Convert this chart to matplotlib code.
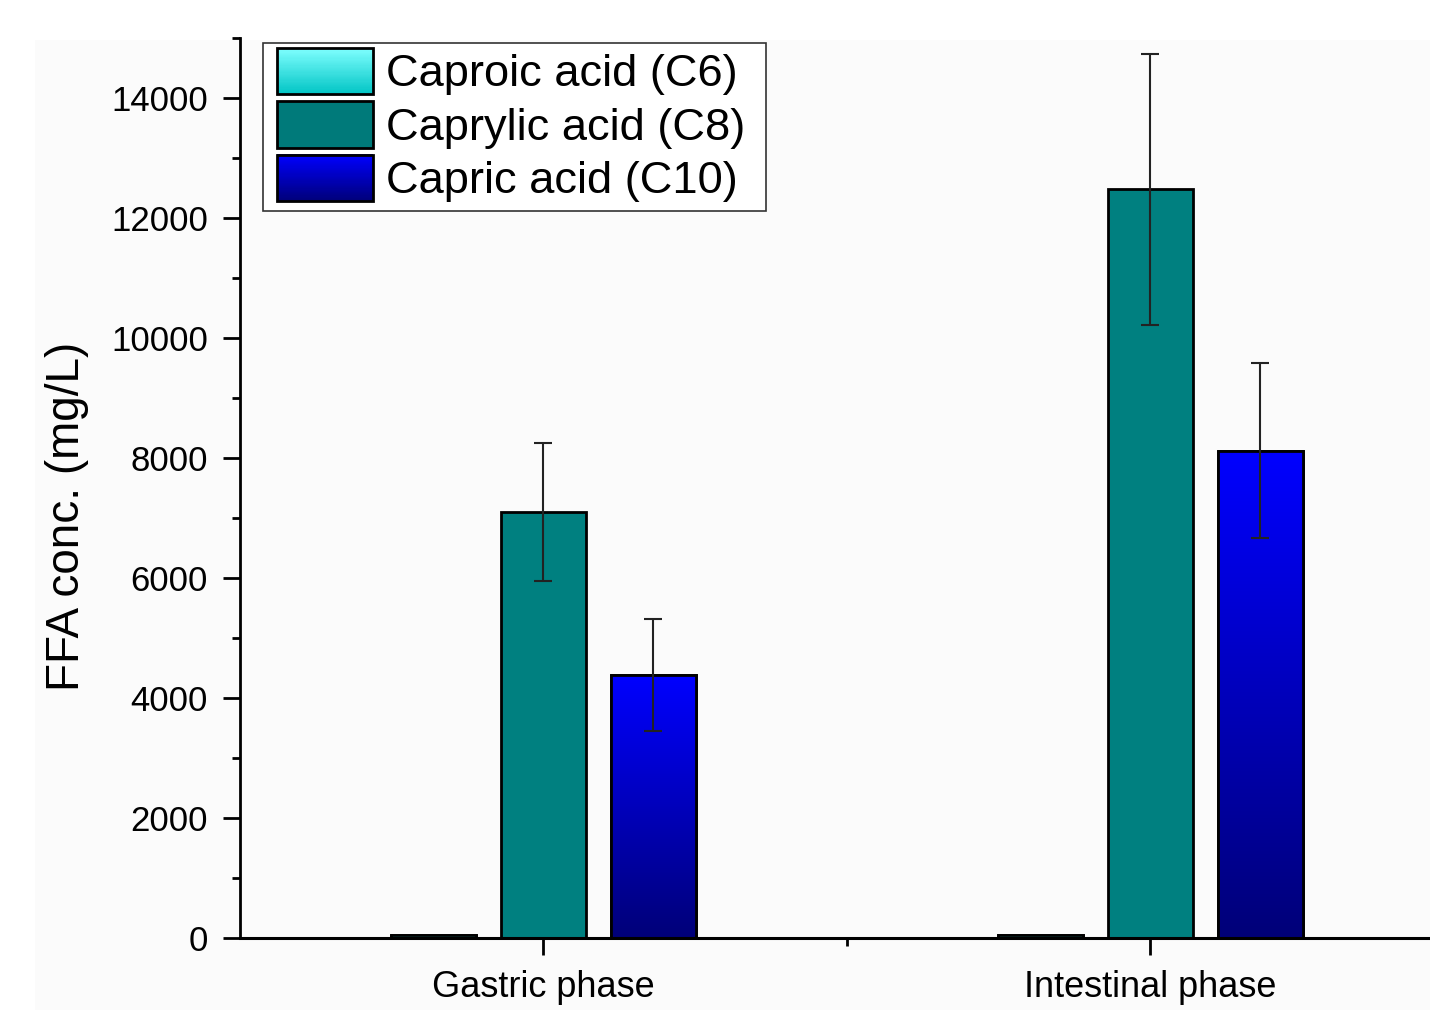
import numpy as np
import matplotlib
matplotlib.use("Agg")
import matplotlib.pyplot as plt
from matplotlib.patches import Rectangle
from matplotlib.colors import LinearSegmentedColormap, to_rgb
from matplotlib.legend_handler import HandlerBase
from matplotlib.ticker import MultipleLocator

plt.rcParams['font.family'] = ['Liberation Sans', 'DejaVu Sans']

categories = ["Gastric phase", "Intestinal phase"]
series = ["Caproic acid (C6)", "Caprylic acid (C8)", "Capric acid (C10)"]
c6_vals = [50, 50]
c8_vals = [7100, 12480]
c10_vals = [4380, 8120]
c6_err = [0, 0]
c8_err = [1150, 2260]
c10_err = [930, 1460]

# gradient (top colour, bottom colour) per series; None = solid
grads = [("#80ffff", "#00c4c4"), None, ("#0000ff", "#000078")]
solid = ["#40e0e0", "#008080", "#0000c0"]
legend_solid = "#007a7a"

W, H = 1430, 1011
fig = plt.figure(figsize=(W/100, H/100), dpi=100)
fig.patches.append(Rectangle((35/W, 1-1010/H), 1, (1010-40)/H,
                             transform=fig.transFigure, facecolor="#fbfbfb",
                             edgecolor="none", zorder=-10))
ax = fig.add_axes([240/W, 1-938/H, 1-240/W, (938-38)/H])
ax.patch.set_alpha(0)

x = np.arange(1, len(categories)+1)
off = 0.181
w = 0.14
vals = [c6_vals, c8_vals, c10_vals]
errs = [c6_err, c8_err, c10_err]

for i, (v, e) in enumerate(zip(vals, errs)):
    pos = x + (i-1)*off
    bars = ax.bar(pos, v, width=w, color=solid[i], edgecolor="black",
                  linewidth=2.0, zorder=2)
    if grads[i] is not None:
        cmap = LinearSegmentedColormap.from_list("g%d" % i, [grads[i][1], grads[i][0]])
        for b in bars:
            x0, y0 = b.get_x(), b.get_y()
            bw, bh = b.get_width(), b.get_height()
            img = ax.imshow(np.linspace(0, 1, 256).reshape(-1, 1), cmap=cmap,
                            origin="lower", aspect="auto",
                            extent=[x0, x0+bw, y0, y0+bh], zorder=2.1,
                            interpolation="bilinear")
            img.set_clip_path(b)
            ax.add_patch(Rectangle((x0, y0), bw, bh, facecolor="none",
                                   edgecolor="black", linewidth=2.0, zorder=2.2))
    if any(e):
        ax.errorbar(pos, v, yerr=e, fmt="none", ecolor="#222222",
                    elinewidth=1.5, capsize=6.5, capthick=1.5, zorder=3)

ax.set_xlim(0.5, 2.4605)
ax.set_ylim(0, 15000)
ax.set_aspect("auto")

ax.spines["top"].set_visible(False)
ax.spines["right"].set_visible(False)
ax.spines["left"].set_linewidth(2.0)
ax.spines["bottom"].set_linewidth(2.2)

ax.yaxis.set_major_locator(MultipleLocator(2000))
ax.yaxis.set_minor_locator(MultipleLocator(1000))
ax.set_yticks(range(0, 14001, 2000))
ax.set_xticks(x)
ax.set_xticklabels(categories)
ax.set_xticks([1.5], minor=True)
ax.tick_params(axis="both", which="major", direction="out", length=12,
               width=2.0, pad=6)
ax.tick_params(axis="both", which="minor", direction="out", length=6, width=2.0)
ax.tick_params(axis="y", which="major", pad=11, labelsize=25)
ax.tick_params(axis="x", which="major", pad=11, labelsize=26)
ax.set_ylabel("FFA conc. (mg/L)", fontsize=33)
ax.yaxis.set_label_coords(-0.127, 0.468)


class GradHandler(HandlerBase):
    def __init__(self, top, bottom):
        super().__init__()
        self.top = to_rgb(top)
        self.bottom = to_rgb(bottom)

    def create_artists(self, legend, orig_handle, xdescent, ydescent,
                       width, height, fontsize, trans):
        arts = []
        n = 40
        for k in range(n):
            t = (k + 0.5) / n
            c = tuple(self.bottom[j] + (self.top[j]-self.bottom[j])*t for j in range(3))
            arts.append(Rectangle((-xdescent, -ydescent + height*k/n), width,
                                  height/n + 0.3, facecolor=c, edgecolor="none",
                                  transform=trans))
        arts.append(Rectangle((-xdescent, -ydescent), width, height,
                              facecolor="none", edgecolor="black", linewidth=2.0,
                              transform=trans))
        return arts


class SolidHandler(HandlerBase):
    def __init__(self, col):
        super().__init__()
        self.col = col

    def create_artists(self, legend, orig_handle, xdescent, ydescent,
                       width, height, fontsize, trans):
        return [Rectangle((-xdescent, -ydescent), width, height,
                          facecolor=self.col, edgecolor="black", linewidth=2.0,
                          transform=trans)]


# legend frame (figure pixels of the reference box)
ax.add_patch(Rectangle((263/W, 1-211/H), (766-263)/W, (211-43)/H,
                       transform=fig.transFigure, facecolor="white",
                       edgecolor="#333333", linewidth=1.2, zorder=4,
                       clip_on=False))

h = [Rectangle((0, 0), 1, 1) for _ in series]
hmap = {h[0]: GradHandler(*grads[0]), h[1]: SolidHandler(legend_solid),
        h[2]: GradHandler(*grads[2])}
leg = ax.legend(h, series, handler_map=hmap, loc="upper left",
                bbox_to_anchor=(277/W, 1-48/H), bbox_transform=fig.transFigure,
                fontsize=32.6, frameon=False, handlelength=2.12, handleheight=1.2,
                labelspacing=0.13, borderpad=0.0, handletextpad=0.28,
                borderaxespad=0.0)
leg.set_zorder(5)

fig.savefig("out.png", dpi=100)
